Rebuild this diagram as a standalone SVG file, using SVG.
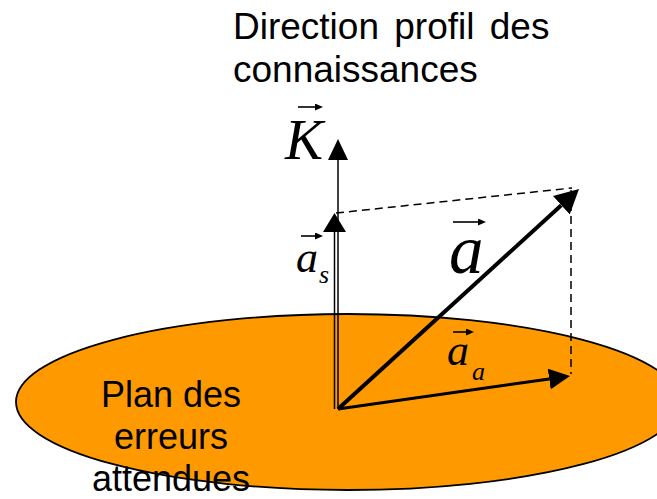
<svg xmlns="http://www.w3.org/2000/svg" width="657" height="499" viewBox="0 0 657 499">
<style>
.lbl{font-family:"Liberation Sans",Arial,sans-serif;fill:#000}
.math{font-family:"Liberation Serif","Times New Roman",serif;font-style:italic;fill:#000}
.vec{stroke:#000;stroke-width:1.6;fill:none}
.conn{stroke:#000;fill:none}
.dash{stroke:#000;stroke-width:1.5;stroke-dasharray:8 5;fill:none}
</style>
<defs>
<marker id="hK" markerUnits="userSpaceOnUse" markerWidth="21" markerHeight="20" refX="0" refY="10" orient="auto"><path d="M0,0 L21,10 L0,20 z" fill="#000"/></marker>
<marker id="hS" markerUnits="userSpaceOnUse" markerWidth="19" markerHeight="23" refX="0" refY="11.5" orient="auto"><path d="M0,0 L19,11.5 L0,23 z" fill="#000"/></marker>
<marker id="hA" markerUnits="userSpaceOnUse" markerWidth="24" markerHeight="25" refX="0" refY="12.5" orient="auto"><path d="M0,0 L24,12.5 L0,25 z" fill="#000"/></marker>
<marker id="hAa" markerUnits="userSpaceOnUse" markerWidth="21" markerHeight="21" refX="0" refY="10.5" orient="auto"><path d="M0,0 L21,10.5 L0,21 z" fill="#000"/></marker>
<marker id="hV" markerUnits="userSpaceOnUse" markerWidth="8" markerHeight="7" refX="0" refY="3.5" orient="auto"><path d="M0,0 L8,3.5 L0,7 z" fill="#000"/></marker>
</defs>

<g id="plane">
<ellipse cx="348" cy="402" rx="332" ry="88" fill="#FF9900" stroke="#000" stroke-width="1.8"/>
<text class="lbl" font-size="36" text-anchor="middle"><tspan x="171" y="407">Plan des</tspan><tspan x="171" y="449">erreurs</tspan><tspan x="171" y="491">attendues</tspan></text>
</g>

<g id="title">
<text class="lbl" font-size="37" x="233" y="39" word-spacing="5">Direction profil des</text>
<text class="lbl" font-size="37" x="233" y="82">connaissances</text>
</g>

<g id="connectors">
<line class="dash" x1="336" y1="213" x2="572" y2="188"/>
<line class="dash" x1="571" y1="190" x2="571" y2="374"/>
<line class="conn" x1="338" y1="409" x2="338" y2="160" stroke-width="1.5" marker-end="url(#hK)"/>
<line class="conn" x1="334.5" y1="409" x2="334.5" y2="232" stroke-width="1.5" marker-end="url(#hS)"/>
<line class="conn" x1="338" y1="409" x2="561.3" y2="205.2" stroke-width="4" marker-end="url(#hA)"/>
<line class="conn" x1="338" y1="409" x2="549.2" y2="379" stroke-width="3" marker-end="url(#hAa)"/>
</g>

<g id="label-K">
<text class="math" font-size="57" x="285" y="159">K</text>
<line class="vec" x1="298" y1="107" x2="315" y2="107" marker-end="url(#hV)"/>
</g>
<g id="label-as">
<text class="math" font-size="44" x="296" y="272">a</text>
<text class="math" font-size="26" x="319" y="283">s</text>
<line class="vec" x1="301" y1="236" x2="315" y2="236" marker-end="url(#hV)"/>
</g>
<g id="label-a">
<text class="math" font-size="69" x="449" y="273">a</text>
<line class="vec" x1="453" y1="222" x2="478" y2="222" marker-end="url(#hV)"/>
</g>
<g id="label-aa">
<text class="math" font-size="44" x="447" y="365">a</text>
<text class="math" font-size="26" x="472" y="380">a</text>
<line class="vec" x1="453" y1="332" x2="466" y2="332" marker-end="url(#hV)"/>
</g>
</svg>
